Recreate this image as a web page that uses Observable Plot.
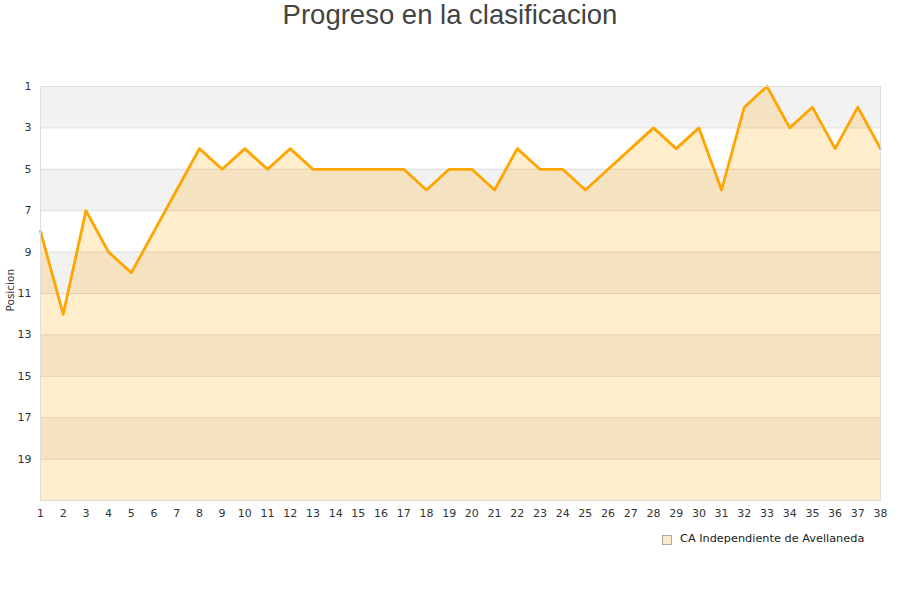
<!DOCTYPE html>
<html>
<head>
<meta charset="utf-8">
<script src="https://cdn.jsdelivr.net/npm/d3@7"></script>
<script src="https://cdn.jsdelivr.net/npm/@observablehq/plot@0.6"></script>
<style>
  body { margin: 0; background: #fff; width: 900px; height: 600px; overflow: hidden; font-family: "DejaVu Sans", sans-serif; }
  #title { height: 40px; line-height: 30px; text-align: center; font-family: "Liberation Sans", Arial, sans-serif; font-size: 27.5px; color: #444; }
  #legend { position: relative; height: 20px; font-size: 11.3px; color: #222; }
  #legend .sw { position: absolute; left: 662px; top: 5px; width: 8px; height: 8px; background: #fdeccb; border: 1px solid #aaa; }
  #legend .lb { position: absolute; left: 680px; top: 2px; }
</style>
</head>
<body>
<div id="title">Progreso en la clasificacion</div>
<div id="chart"></div>
<div id="legend"><span class="sw"></span><span class="lb">CA Independiente de Avellaneda</span></div>
<script>
const team = "CA Independiente de Avellaneda";
const matches = d3.range(1, 39);
const positions = [8, 12, 7, 9, 10, 8, 6, 4, 5, 4, 5, 4, 5, 5, 5, 5, 5, 6, 5, 5, 6, 4, 5, 5, 6, 5, 4, 3, 4, 3, 6, 2, 1, 3, 2, 4, 2, 4];
const yTicks = [1, 3, 5, 7, 9, 11, 13, 15, 17, 19];
const bandStarts = [1, 5, 9, 13, 17];
const yLabel = "Posicion";

const data = matches.map((m, i) => ({m, p: positions[i]}));
const bands = bandStarts.map(s => ({a: s, b: s + 2}));

const chart = Plot.plot({
  width: 900,
  height: 490,
  marginTop: 46,
  marginBottom: 30,
  marginLeft: 40,
  marginRight: 20,
  style: {fontFamily: "DejaVu Sans, sans-serif", fontSize: "11px", color: "#333", background: "#fff"},
  x: {domain: [1, 38], ticks: matches, tickSize: 0, tickPadding: 9, tickFormat: d => d, label: null},
  y: {domain: [1, 21], reverse: true, ticks: yTicks, tickSize: 0, tickPadding: 9, label: null},
  marks: [
    Plot.rect(bands, {y1: "a", y2: "b", fill: "#f2f2f2"}),
    Plot.ruleY(yTicks, {stroke: "#dddddd", strokeWidth: 1}),
    Plot.areaY(data, {x: "m", y1: () => 21, y2: "p", fill: "#ffa500", fillOpacity: 0.2}),
    Plot.line(data, {x: "m", y: "p", stroke: "#ffa500", strokeWidth: 2.8}),
    Plot.frame({stroke: "#dddddd"}),
    Plot.text([yLabel], {frameAnchor: "left", dx: -30, dy: 18, rotate: -90, fontSize: 10.5, fill: "#333"})
  ]
});
document.getElementById("chart").appendChild(chart);
</script>
</body>
</html>
